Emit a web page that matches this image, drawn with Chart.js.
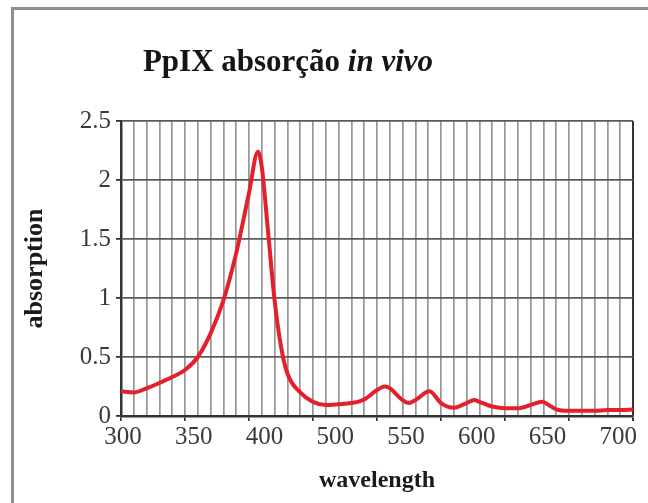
<!DOCTYPE html>
<html>
<head>
<meta charset="utf-8">
<script src="https://cdn.jsdelivr.net/npm/chart.js@4"></script>
<style>
  html, body { margin: 0; padding: 0; background: #fff; }
  #wrap { position: relative; width: 648px; height: 503px; overflow: hidden; }
  #frame { position: absolute; left: 11px; top: 7px; width: 700px; height: 600px;
           border-left: 3px solid #8e8e8e; border-top: 3px solid #8e8e8e; }
  canvas { position: absolute; left: 0; top: 0; }
</style>
</head>
<body>
<div id="wrap">
  <div id="frame"></div>
  <canvas id="absChart" width="648" height="503"></canvas>
</div>
<script>
// PpIX absorption spectrum
const wavelengths = [300, 310, 320, 330, 340, 350, 360, 370, 380, 390, 400, 407, 410, 415, 420, 425, 430, 440, 450, 460,
    470, 480, 490, 500, 506, 510, 520, 525, 530, 541, 550, 560, 570, 576, 580, 590, 600, 610, 620, 629,
    635, 640, 650, 660, 670, 680, 690, 700];
const absorption = [0.21, 0.20, 0.235, 0.28, 0.33, 0.39, 0.50, 0.70, 0.98, 1.38, 1.89, 2.24, 2.11, 1.55, 0.98, 0.59, 0.36, 0.20, 0.12, 0.093,
    0.10, 0.11, 0.14, 0.22, 0.25, 0.235, 0.135, 0.11, 0.135, 0.21, 0.11, 0.07, 0.11, 0.135, 0.12, 0.08, 0.065, 0.065, 0.093, 0.12,
    0.087, 0.057, 0.045, 0.045, 0.045, 0.05, 0.05, 0.055];
// tick labels as printed under the axis (they are evenly spaced, not on the ticks)
const xTickLabels = ['300', '350', '400', '500', '550', '600', '650', '700'];

const serif = '"Liberation Serif", "DejaVu Serif", serif';

// title with mixed upright / italic parts
const mixedTitle = {
    id: 'mixedTitle',
    afterDraw(chart) {
        const ctx = chart.ctx;
        const partA = 'PpIX absorção ';
        const partB = 'in vivo';
        const fontA = 'bold 31px ' + serif;
        const fontB = 'italic bold 31px ' + serif;
        ctx.save();
        ctx.fillStyle = '#151515';
        ctx.textBaseline = 'alphabetic';
        ctx.font = fontA;
        const wA = ctx.measureText(partA).width;
        ctx.font = fontB;
        const wB = ctx.measureText(partB).width;
        let x = 288 - (wA + wB) / 2;
        ctx.font = fontA;
        ctx.fillText(partA, x, 71);
        ctx.font = fontB;
        ctx.fillText(partB, x + wA, 71);
        ctx.restore();
    }
};

const ctx = document.getElementById('absChart').getContext('2d');
new Chart(ctx, {
    type: 'line',
    data: {
        datasets: [{
            data: wavelengths.map((w, i) => ({ x: w, y: absorption[i] })),
            borderColor: '#e3202b',
            borderWidth: 4,
            pointRadius: 0,
            cubicInterpolationMode: 'monotone',
            fill: false
        }]
    },
    options: {
        responsive: false,
        animation: false,
        layout: { padding: { left: 14, right: 15, top: 121, bottom: 0 } },
        plugins: {
            legend: { display: false },
            tooltip: { enabled: false }
        },
        scales: {
            x: {
                type: 'linear',
                position: 'bottom',
                min: 300,
                max: 700,
                ticks: { display: false, stepSize: 10, maxTicksLimit: 100, autoSkip: false },
                grid: {
                    color: c => (c.tick && c.tick.value === 700) ? '#333' : '#969696',
                    lineWidth: c => (c.tick && c.tick.value === 700) ? 2 : 1.7,
                    tickColor: c => (c.tick && c.tick.value % 50 === 0) ? '#333' : 'rgba(0,0,0,0)',
                    tickLength: 5
                },
                border: { color: '#333', width: 2.5 },
                afterFit: s => { s.height = 5; }
            },
            xLabels: {
                type: 'linear',
                position: 'bottom',
                min: -0.03,
                max: 7.21,
                afterBuildTicks: s => { s.ticks = xTickLabels.map((l, i) => ({ value: i })); },
                ticks: {
                    autoSkip: false,
                    maxRotation: 0,
                    padding: 1,
                    color: '#3a3a3a',
                    font: { family: serif, size: 25 },
                    callback: v => xTickLabels[v]
                },
                grid: { display: false, drawTicks: false },
                border: { display: false },
                title: {
                    display: true,
                    text: 'wavelength',
                    color: '#1a1a1a',
                    font: { family: serif, size: 24, weight: 'bold' },
                    padding: { top: 0, bottom: 8 }
                },
                afterFit: s => { s.height = 82; }
            },
            y: {
                min: 0,
                max: 2.5,
                ticks: {
                    stepSize: 0.5,
                    padding: 5,
                    color: '#3a3a3a',
                    font: { family: serif, size: 25 },
                    callback: v => String(v)
                },
                grid: { color: '#5a5a5a', lineWidth: 1.8, tickColor: '#333', tickLength: 5 },
                border: { color: '#333', width: 2.5 },
                title: {
                    display: true,
                    text: 'absorption',
                    color: '#1a1a1a',
                    font: { family: serif, size: 26, weight: 'bold' },
                    padding: { top: 6, bottom: 10 }
                },
                afterFit: s => { s.width = 107; }
            }
        }
    },
    plugins: [mixedTitle]
});
</script>
</body>
</html>
